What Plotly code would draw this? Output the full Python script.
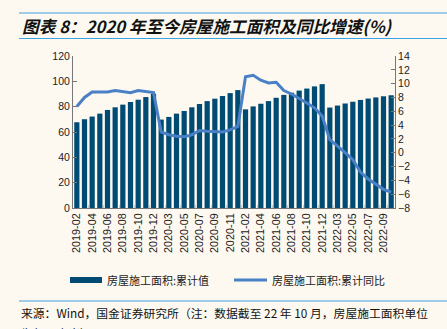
import plotly.graph_objects as go

months = ([f"2019-{m:02d}" for m in range(2, 13)] +
          [f"2020-{m:02d}" for m in range(2, 13)] +
          [f"2021-{m:02d}" for m in range(2, 13)] +
          [f"2022-{m:02d}" for m in range(2, 11)])

area_cum = [67.7, 70.1, 72.2, 74.5, 77.4, 79.5, 81.6, 83.7, 85.5, 87.6, 90.2,
            69.8, 71.9, 74.5, 76.6, 79.5, 82.1, 84.4, 86.3, 88.4, 90.7, 93.1,
            77.9, 80.2, 82.3, 84.4, 87.0, 89.3, 91.0, 92.7, 94.3, 96.0, 97.8,
            79.3, 80.9, 82.5, 83.9, 85.3, 86.4, 87.3, 88.2, 89.0]

area_yoy = [6.7, 8.0, 8.8, 8.8, 8.8, 9.0, 8.9, 8.7, 9.0, 8.8, 8.7,
            3.0, 2.6, 2.4, 2.3, 2.6, 3.2, 3.1, 3.0, 3.0, 3.3, 3.8,
            11.0, 11.2, 10.5, 10.1, 10.2, 9.0, 8.5, 7.9, 7.2, 6.5, 5.3,
            1.9, 1.0, 0.0, -1.0, -2.8, -3.8, -4.6, -5.3, -5.7]

label_idx = list(range(0, 42, 2))
tickvals = [months[i] for i in label_idx]

BAR = "#004B73"
LINE = "#4A80C6"
BG = "#FDF9F0"
BLUE_RULE = "#3FA2E2"
CJK = "Noto Sans CJK SC"
LAT = "Liberation Sans, Arial"

fig = go.Figure()
fig.add_trace(go.Bar(x=months, y=area_cum, marker_color=BAR, marker_line_width=0,
                     name="房屋施工面积:累计值", showlegend=False))
fig.add_trace(go.Scatter(x=months, y=area_yoy, yaxis="y2", mode="lines",
                         line=dict(color=LINE, width=3),
                         name="房屋施工面积:累计同比", showlegend=False))

fig.update_layout(
    width=447, height=329,
    margin=dict(l=73, r=52, t=56, b=121),
    paper_bgcolor=BG, plot_bgcolor=BG,
    bargap=0.32,
    font=dict(family=LAT, size=10, color="#222"),
    xaxis=dict(type="category", tickmode="array", tickvals=tickvals, ticktext=tickvals,
               tickangle=-90, tickfont=dict(size=10.8, family=LAT, color="#222"),
               showline=True, linecolor="#777", linewidth=1,
               ticks="inside", ticklen=3, tickcolor="#ccc", tickson="boundaries",
               showgrid=False, zeroline=False),
    yaxis=dict(range=[0, 120], dtick=20, showgrid=False, zeroline=False,
               showline=True, linecolor="#777", linewidth=1,
               ticks="inside", ticklen=4, tickcolor="#777",
               tickfont=dict(size=10.5, family=LAT, color="#222")),
    yaxis2=dict(range=[-8, 14], dtick=2, overlaying="y", side="right",
                showgrid=False, zeroline=False,
                showline=True, linecolor="#777", linewidth=1,
                ticks="inside", ticklen=4, tickcolor="#777",
                tickfont=dict(size=10.5, family=LAT, color="#222")),
)


def px_to_paper_x(px):
    return (px - 73) / (447 - 73 - 52)


def px_to_paper_y(py):
    return (329 - 121 - py) / (329 - 56 - 121)


shapes = [
    dict(type="line", xref="paper", yref="paper",
         x0=px_to_paper_x(19), x1=px_to_paper_x(447), y0=px_to_paper_y(13), y1=px_to_paper_y(13),
         line=dict(color=BLUE_RULE, width=1.2)),
    dict(type="line", xref="paper", yref="paper",
         x0=px_to_paper_x(19), x1=px_to_paper_x(447), y0=px_to_paper_y(38.5), y1=px_to_paper_y(38.5),
         line=dict(color=BLUE_RULE, width=1.2)),
    dict(type="line", xref="paper", yref="paper",
         x0=px_to_paper_x(19), x1=px_to_paper_x(447), y0=px_to_paper_y(301), y1=px_to_paper_y(301),
         line=dict(color=BLUE_RULE, width=1.2)),
    dict(type="rect", xref="paper", yref="paper",
         x0=px_to_paper_x(70), x1=px_to_paper_x(102), y0=px_to_paper_y(283), y1=px_to_paper_y(277),
         fillcolor=BAR, line=dict(width=0)),
    dict(type="line", xref="paper", yref="paper",
         x0=px_to_paper_x(234), x1=px_to_paper_x(267), y0=px_to_paper_y(280), y1=px_to_paper_y(280),
         line=dict(color=LINE, width=3)),
]

annotations = [
    dict(text="<b><i>图表 8：2020 年至今房屋施工面积及同比增速(%)</i></b>", xref="paper", yref="paper",
         x=px_to_paper_x(20), y=px_to_paper_y(25.5), xanchor="left", yanchor="middle",
         showarrow=False, font=dict(family=CJK, size=16.7, color="#111")),
    dict(text="房屋施工面积:累计值", xref="paper", yref="paper",
         x=px_to_paper_x(105), y=px_to_paper_y(280), xanchor="left", yanchor="middle",
         showarrow=False, font=dict(family=CJK, size=11, color="#222")),
    dict(text="房屋施工面积:累计同比", xref="paper", yref="paper",
         x=px_to_paper_x(270), y=px_to_paper_y(280), xanchor="left", yanchor="middle",
         showarrow=False, font=dict(family=CJK, size=11, color="#222")),
    dict(text="来源：Wind，国金证券研究所（注：数据截至 22 年 10 月，房屋施工面积单位", xref="paper", yref="paper",
         x=px_to_paper_x(19), y=px_to_paper_y(312.5), xanchor="left", yanchor="middle",
         showarrow=False, font=dict(family=CJK, size=11.8, color="#111")),
    dict(text="为亿平方米）", xref="paper", yref="paper",
         x=px_to_paper_x(19), y=px_to_paper_y(321.5), xanchor="left", yanchor="top",
         showarrow=False, font=dict(family=CJK, size=11.8, color="#111")),
]

fig.update_layout(shapes=shapes, annotations=annotations)
fig.write_html("out.html")
